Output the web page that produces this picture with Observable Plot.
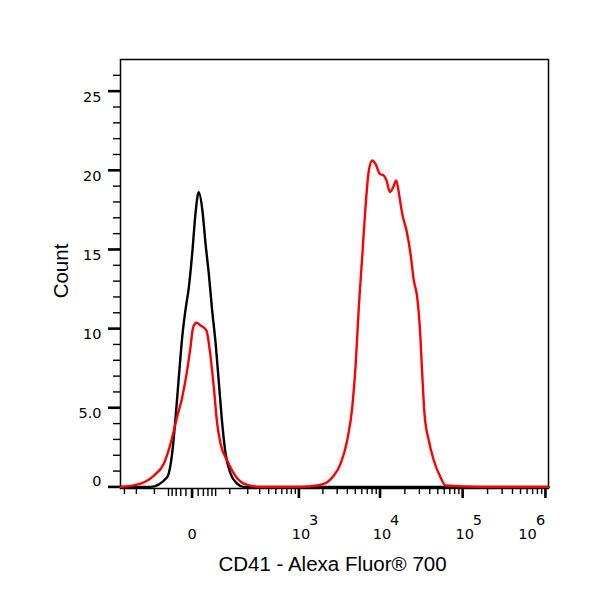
<!DOCTYPE html>
<html><head><meta charset="utf-8">
<script src="https://cdn.jsdelivr.net/npm/d3@7"></script>
<script src="https://cdn.jsdelivr.net/npm/@observablehq/plot@0.6"></script>
<style>body{margin:0;background:#fff}</style>
</head><body><div id="chart"></div>
<script>
// Unstained control (black) histogram: CD41 - Alexa Fluor 700 intensity vs count
const blackX = [-341, -118, -54, -40, -32, -24, -17, -11, -5, 0.2, 5.4, 11, 18, 24.5, 32, 40.5, 50, 60, 71, 83, 103, 135, 172, 1089000];
const blackY = [0, 0, 0.61, 2.11, 4.19, 6.93, 9.46, 11.14, 12.62, 14.74, 17.27, 18.62, 17.46, 15.38, 13.48, 11.14, 9.06, 6.53, 4.0, 2.11, 0.85, 0.21, 0, 0];
// Stained sample (red) histogram
const redX = [-341, -172, -102, -64, -44, -28, -17, -8, -2.4, 1.7, 7.1, 14.3, 26.7, 34.4, 44.8, 54.6, 65, 89.5, 118, 174, 308,
  1048, 1700, 2260, 2730, 3300, 3980, 4590, 5030, 5520, 6070, 6660, 7310, 8040, 8810, 9940, 11120, 11990, 13150, 14460, 15720,
  17240, 18580, 20950, 23420, 25680, 28230, 30350, 32450, 34590, 38990, 44840, 54020, 62100, 164300, 1089000];
const redY = [0, 0.21, 0.72, 1.48, 2.74, 4.40, 5.67, 7.35, 8.83, 10.09, 10.37, 10.20, 9.88, 8.62, 6.30, 4.00, 2.74, 1.67, 0.85, 0.21, 0,
  0, 0.09, 0.30, 0.72, 1.46, 2.93, 5.03, 7.56, 11.35, 14.51, 17.67, 19.99, 20.62, 20.41, 19.78, 19.67, 19.36, 18.62, 18.93, 19.36,
  18.30, 17.25, 16.20, 14.73, 13.04, 11.98, 10.09, 7.14, 4.62, 2.93, 1.67, 0.61, 0.09, 0, 0];

// Axis ticks and labels
const yMajorTicks = [0, 5, 10, 15, 20, 25];
const yTickLabels = ["0", "5.0", "10", "15", "20", "25"];
const yMinorTicks = [1,2,3,4,6,7,8,9,11,12,13,14,16,17,18,19,21,22,23,24,26];
const xMajorTicks = [0, 1e3, 1e4, 1e5, 1e6];
const xDecadeTicks = [1e3, 1e4, 1e5];
const xDecadeExponents = ["3", "4", "5"];
const xLastDecade = [1e6];
const xLastExponent = ["6"];
const xNearZeroTicks = [-50, -40, -30, -20, -10, 10, 20, 30, 40, 50];
const xMinorTicks = [-300, -200, -100, 100, 200, 300, 400, 500, 600, 700, 800, 900,
  2000, 3000, 4000, 5000, 6000, 7000, 8000, 9000,
  20000, 30000, 40000, 50000, 60000, 70000, 80000, 90000,
  200000, 300000, 400000, 500000, 600000, 700000, 800000, 900000];
const xTitle = "CD41 - Alexa Fluor® 700";
const yTitle = "Count";

const black = blackX.map((x, i) => ({x, y: blackY[i]}));
const red = redX.map((x, i) => ({x, y: redY[i]}));
const yLabelData = yMajorTicks.map((v, i) => ({v, t: yTickLabels[i]}));
const tickFont = "DejaVu Sans, Liberation Sans, sans-serif";
const tickSize = 14.5;

const chart = Plot.plot({
  width: 600,
  height: 600,
  marginLeft: 120,
  marginRight: 52,
  marginTop: 59,
  marginBottom: 112,
  style: {fontFamily: "Liberation Sans, Arial, sans-serif", background: "white", color: "black"},
  x: {type: "symlog", constant: 54, domain: [-341, 1089000], axis: null},
  y: {domain: [-0.1, 27], axis: null},
  marks: [
    Plot.frame({stroke: "black", strokeWidth: 1.5}),
    // y ticks
    Plot.axisY({ticks: yMajorTicks, tickSize: 12, strokeWidth: 2.6, fill: "none", label: null}),
    Plot.axisY({ticks: yMinorTicks, tickSize: 7, strokeWidth: 1.4, fill: "none", label: null}),
    // x ticks
    Plot.axisX({ticks: xMajorTicks, tickSize: 10, strokeWidth: 2.6, fill: "none", label: null}),
    Plot.axisX({ticks: xNearZeroTicks, tickSize: 8, strokeWidth: 1.4, fill: "none", label: null}),
    Plot.axisX({ticks: xMinorTicks, tickSize: 6, strokeWidth: 1.4, fill: "none", label: null}),
    // y tick labels
    Plot.text(yLabelData.filter(d => d.v > 0), {y: "v", text: "t", frameAnchor: "left", textAnchor: "end", dx: -19, dy: 6, fontSize: tickSize, fontFamily: tickFont}),
    Plot.text(yLabelData.filter(d => d.v === 0), {y: "v", text: "t", frameAnchor: "left", textAnchor: "end", dx: -19, dy: -6, fontSize: tickSize, fontFamily: tickFont}),
    // x tick labels
    Plot.text([0], {x: d => d, text: () => "0", frameAnchor: "bottom", lineAnchor: "bottom", textAnchor: "middle", dy: 50, fontSize: tickSize, fontFamily: tickFont}),
    Plot.text(xDecadeTicks, {x: d => d, text: () => "10", frameAnchor: "bottom", lineAnchor: "bottom", textAnchor: "middle", dx: 2, dy: 50, fontSize: tickSize, fontFamily: tickFont}),
    Plot.text(xDecadeTicks, {x: d => d, text: (d, i) => xDecadeExponents[i], frameAnchor: "bottom", lineAnchor: "bottom", textAnchor: "start", dx: 10, dy: 36, fontSize: tickSize, fontFamily: tickFont}),
    Plot.text(xLastDecade, {x: d => d, text: () => "10", frameAnchor: "bottom", lineAnchor: "bottom", textAnchor: "middle", dx: -18, dy: 50, fontSize: tickSize, fontFamily: tickFont}),
    Plot.text(xLastDecade, {x: d => d, text: (d, i) => xLastExponent[i], frameAnchor: "bottom", lineAnchor: "bottom", textAnchor: "start", dx: -9.5, dy: 36, fontSize: tickSize, fontFamily: tickFont}),
    // axis titles
    Plot.text([xTitle], {text: d => d, frameAnchor: "bottom", lineAnchor: "bottom", textAnchor: "middle", dx: -2, dy: 82, fontSize: 20.5}),
    Plot.text([yTitle], {text: d => d, frameAnchor: "left", rotate: -90, lineAnchor: "bottom", textAnchor: "middle", dx: -53, dy: -3, fontSize: 20.5}),
    // histograms
    Plot.line(black, {x: "x", y: "y", stroke: "#000", strokeWidth: 2.4, curve: "monotone-x"}),
    Plot.line(red, {x: "x", y: "y", stroke: "#ff0000", strokeWidth: 2.4, curve: "monotone-x"})
  ]
});
document.getElementById("chart").appendChild(chart);
</script>
</body></html>
